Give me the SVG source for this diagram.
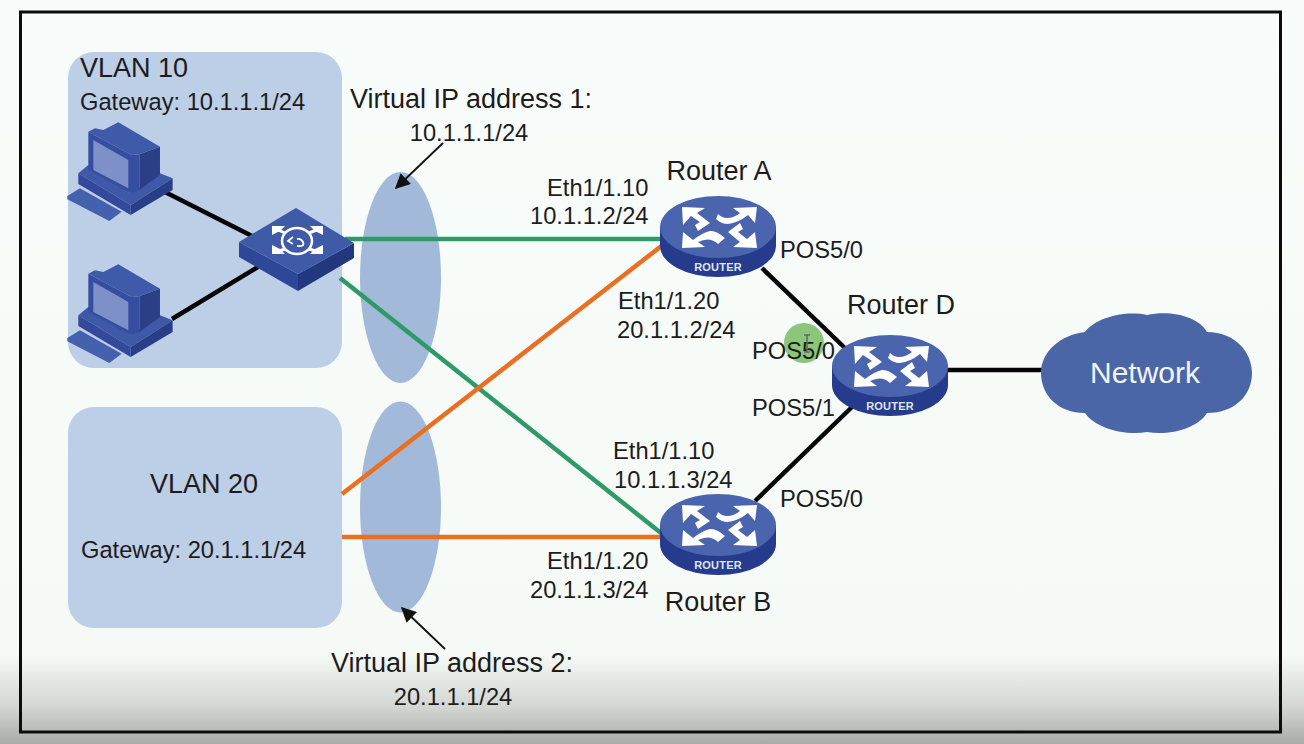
<svg xmlns="http://www.w3.org/2000/svg" width="1304" height="744" viewBox="0 0 1304 744">
<style>
text{font-family:"Liberation Sans",Arial,sans-serif;fill:#1c1c1c;font-size:23.700px}
.m{text-anchor:middle}
.big{font-size:27px}
.conn{fill:none;stroke-width:4.500}
.k{stroke:#050505}.g{stroke:#2f9a68}.o{stroke:#ea6f20}
.pt{fill:none;stroke:#111;stroke-width:1.800}
.panel{fill:#bdcee7}
.vip{fill:#a3b9da}
.wa{fill:#fff}
</style>
<defs>
<linearGradient id="bg" x1="0" y1="0" x2="0" y2="1">
<stop offset="0" stop-color="#f8fcfa"/><stop offset="0.88" stop-color="#f5faf7"/><stop offset="0.95" stop-color="#d3d6d3"/><stop offset="1" stop-color="#a9aba9"/>
</linearGradient>
<marker id="ah" viewBox="0 0 10 10" refX="9" refY="5" markerWidth="16" markerHeight="15" markerUnits="userSpaceOnUse" orient="auto"><path d="M0,0L10,5L0,10Z" fill="#111"/></marker>
<g id="router">
<path d="M-58,0V19A58,31 0 0 0 58,19V0Z" fill="#263b8c"/>
<ellipse cx="0" cy="0" rx="58" ry="31" fill="#4a65ad"/>
<g class="wa">
<path d="M-36,-20L-13,-19L-21,-14L-8,-4L-20,4L-23,-2L-18,-5L-27,-11L-35,-2Z"/>
<path d="M39,-20L15,-19L22,-14Q16,-9 9,-9Q4,-9 0,-13L-2,-8Q3,-3 10,-3Q20,-4 30,-12L37,-4Z"/>
<path d="M-36,21L-13,20L-20,15Q-8,9 0,17L7,11Q-2,3 -8,4Q-16,6 -25,13L-35,5Z"/>
<path d="M39,21L15,20L22,15L10,5L22,-4L25,2L20,5L29,12L37,5Z"/>
</g>
<text x="0" y="44" class="m" style="font-size:11px;font-weight:bold;fill:#dfe6f5;letter-spacing:0.200px">ROUTER</text>
</g>
<g id="pc">
<path d="M22,258L60,235L185,305L148,333L22,268Z" fill="#4560ac"/>
<path d="M55,190L85,165L212,250L300,190L338,205L212,285Z" fill="#4058a8"/>
<path d="M55,190L212,285V315L55,222Z" fill="#34499b"/>
<path d="M212,285L338,205V240L212,315Z" fill="#293e88"/>
<path d="M85,65L105,55L130,60L175,37L300,110L238,133L215,135Z" fill="#3f5aa8"/>
<path d="M238,133L300,110V195L238,240Z" fill="#2b3f86"/>
<path d="M85,65L215,135L238,133V240L212,250L85,180Z" fill="#354e9f"/>
<path d="M100,90L205,150V235L100,180Z" fill="#7d90c8"/>
</g>
</defs>
<rect width="1304" height="744" fill="url(#bg)"/>
<rect x="20.500" y="12" width="1260" height="720" fill="none" stroke="#0c0c0c" stroke-width="3"/>
<g id="vlan10"><rect class="panel" x="68" y="52" width="274" height="316" rx="26"/><text x="80" y="77" class="big">VLAN 10</text><text x="80" y="110">Gateway: 10.1.1.1/24</text></g>
<g id="vlan20"><rect class="panel" x="68" y="407" width="274" height="221" rx="26"/><text x="204" y="493" class="m big">VLAN 20</text><text x="81" y="558">Gateway: 20.1.1.1/24</text></g>
<g id="vip1"><ellipse class="vip" cx="400.500" cy="277.500" rx="40.500" ry="105.500"/></g>
<g id="vip2"><ellipse class="vip" cx="400.500" cy="507" rx="40.500" ry="105.500"/></g>
<g id="cursor-dot"><circle cx="804" cy="343" r="20" fill="#8cc67c"/></g>
<g id="connectors">
<path class="conn k" d="M165,192L252,236"/>
<path class="conn k" d="M172,319L258,267"/>
<path class="conn g" d="M345,239H662"/>
<path class="conn g" d="M340,278L666,537"/>
<path class="conn o" d="M342,494L664,244"/>
<path class="conn o" d="M342,537H662"/>
<path class="conn k" d="M762,268L846,349"/>
<path class="conn k" d="M755,501L852,407"/>
<path class="conn k" d="M946,370H1044"/>
<path class="pt" d="M443,143L396,188" marker-end="url(#ah)"/>
<path class="pt" d="M445,649L402,608" marker-end="url(#ah)"/>
</g>
<g id="pc1"><use href="#pc" transform="translate(60,110) scale(0.3333)"/></g>
<g id="pc2"><use href="#pc" transform="translate(60,252) scale(0.3333)"/></g>
<g id="switch">
<path d="M239,242L298,274V291L239,257Z" fill="#2f4797"/>
<path d="M354,243L298,274V291L354,258Z" fill="#23377f"/>
<path d="M296,208L354,243L298,274L239,242Z" fill="#3f5aa6"/>
<g fill="none" stroke="#fff"><ellipse cx="297" cy="241" rx="15" ry="13" stroke-width="2.500"/><path d="M276,229L285,233M319,229L309,233M276,252L285,249M319,252L309,249" stroke-width="3"/><path d="M293,237l-5,4l5,3M297,246q8,1 6,-4q-2,-4 -6,-3" stroke-width="1.800"/></g>
<g fill="#fff"><path d="M272,226H285L280,231L272,235ZM323,226H310L315,231L323,235ZM272,254H285L280,249L272,245ZM323,254H310L315,249L323,245Z"/></g>
</g>
<g id="routerA"><use href="#router" x="718" y="227"/><text x="719" y="180" class="m big">Router A</text></g>
<g id="routerB"><use href="#router" x="718" y="525"/><text x="718" y="611" class="m big">Router B</text></g>
<g id="routerD"><use href="#router" x="890" y="366"/><text x="901" y="314" class="m big">Router D</text></g>
<g id="network">
<path d="M1085,332C1095,318 1125,310 1147,315C1170,310 1198,316 1207,332C1235,332 1252,352 1252,373C1252,395 1235,413 1207,413C1198,428 1170,436 1147,432C1125,436 1095,428 1085,413C1058,413 1041,395 1041,373C1041,352 1060,335 1085,332Z" fill="#4a66a6"/>
<text x="1145" y="383" class="m" style="fill:#f2f5fb;font-size:30px">Network</text>
</g>
<g id="labels">
<text x="471" y="108" class="m big">Virtual IP address 1:</text>
<text x="469" y="141" class="m">10.1.1.1/24</text>
<text x="452" y="672" class="m big">Virtual IP address 2:</text>
<text x="453" y="705" class="m">20.1.1.1/24</text>
<text x="547" y="196">Eth1/1.10</text>
<text x="530" y="224">10.1.1.2/24</text>
<text x="618" y="309">Eth1/1.20</text>
<text x="617" y="338">20.1.1.2/24</text>
<text x="613" y="459">Eth1/1.10</text>
<text x="614" y="488">10.1.1.3/24</text>
<text x="547" y="569">Eth1/1.20</text>
<text x="530" y="598">20.1.1.3/24</text>
<text x="780" y="258">POS5/0</text>
<text x="752" y="359">POS5/0</text>
<text x="752" y="416">POS5/1</text>
<text x="780" y="507">POS5/0</text>
</g>
<path id="cursor" d="M804,335h6M807,335v17M804,352h6" fill="none" stroke="#666" stroke-width="1.500"/>
</svg>
